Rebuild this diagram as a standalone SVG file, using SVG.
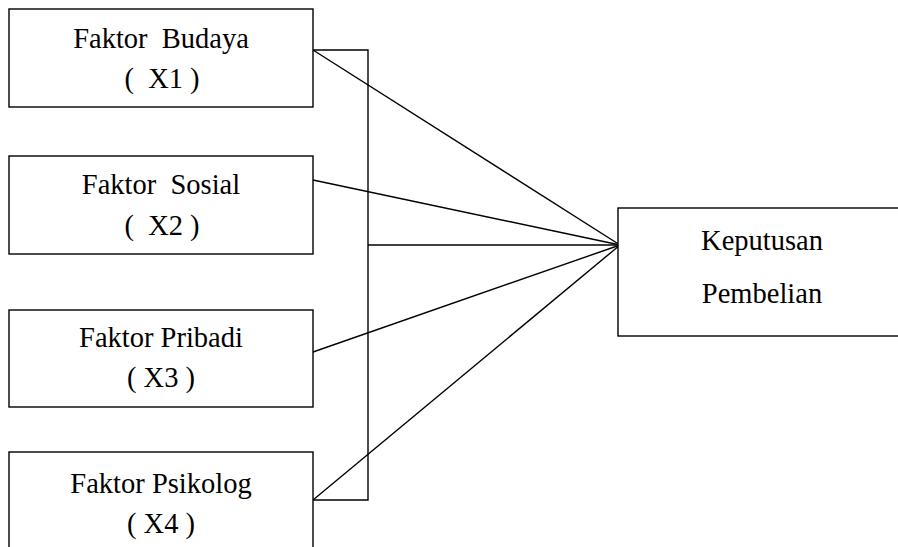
<svg xmlns="http://www.w3.org/2000/svg" width="898" height="547" viewBox="0 0 898 547">
<style>
.box{fill:#fff;stroke:#000;stroke-width:1.4}
.ln{fill:none;stroke:#000;stroke-width:1.4}
.t{font-family:'Liberation Serif','Times New Roman',Times,serif;font-size:28.5px;fill:#000;text-anchor:middle}
</style>
<rect width="898" height="547" fill="#fff"/>
<g id="connectors">
<polyline class="ln" points="313,50 368,50 368,500 313,500"/>
<line class="ln" x1="313" y1="50" x2="620" y2="245"/>
<line class="ln" x1="313" y1="180" x2="620" y2="245"/>
<line class="ln" x1="368" y1="245" x2="620" y2="245"/>
<line class="ln" x1="313" y1="352" x2="620" y2="245"/>
<line class="ln" x1="313" y1="500" x2="620" y2="245"/>
</g>
<g id="x1">
<rect class="box" x="9" y="9" width="304" height="98"/>
<text class="t" x="161" y="48" xml:space="preserve">Faktor  Budaya</text>
<text class="t" x="162" y="88" xml:space="preserve">(  X1 )</text>
</g>
<g id="x2">
<rect class="box" x="9" y="156" width="304" height="98"/>
<text class="t" x="161" y="194" xml:space="preserve">Faktor  Sosial</text>
<text class="t" x="162" y="235" xml:space="preserve">(  X2 )</text>
</g>
<g id="x3">
<rect class="box" x="9" y="310" width="304" height="97"/>
<text class="t" x="161" y="347">Faktor Pribadi</text>
<text class="t" x="161" y="387">( X3 )</text>
</g>
<g id="x4">
<rect class="box" x="9" y="452" width="304" height="110"/>
<text class="t" x="161" y="493">Faktor Psikolog</text>
<text class="t" x="161" y="533">( X4 )</text>
</g>
<g id="y">
<rect class="box" x="618" y="208" width="300" height="128"/>
<text class="t" x="762" y="250">Keputusan</text>
<text class="t" x="762" y="303">Pembelian</text>
</g>
</svg>
